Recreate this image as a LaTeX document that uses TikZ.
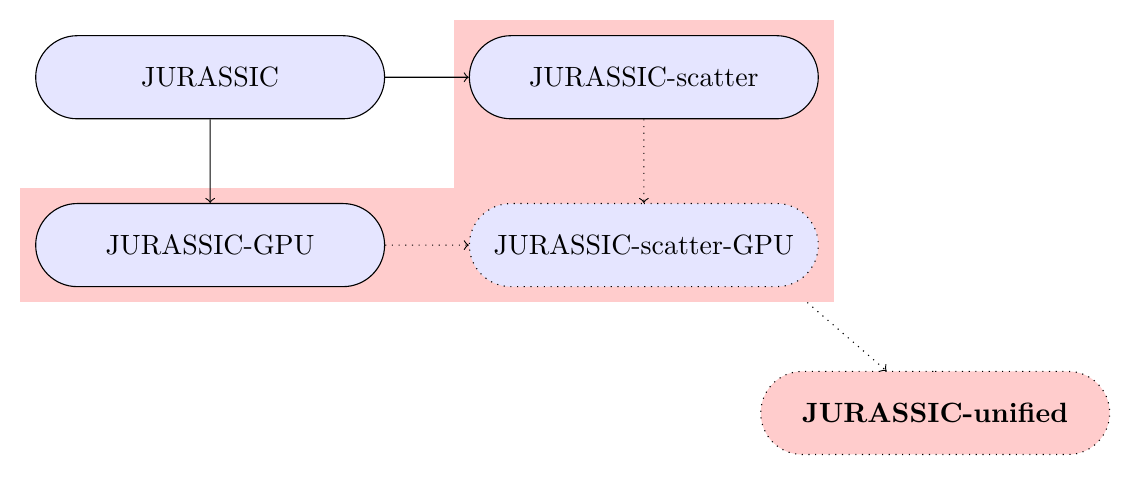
\documentclass[tikz,border=0pt]{standalone}
\usetikzlibrary{positioning,shapes.misc,fit,backgrounds}

\begin{document}
\begin{tikzpicture}
    \tikzset{codebox/.style={rounded rectangle, draw, fill=blue!10, minimum width=131.8pt, minimum height=29.8pt},
             myarrow/.style={->, thin},
             region/.style={fill=red!20, inner sep=5.3pt}}
    \tikzset{node distance=30pt}

    \draw node[codebox] (jurassic) {JURASSIC};
    \draw node[codebox, right=of jurassic] (scatter) {JURASSIC-scatter};
    \draw node[codebox, below=of jurassic] (gpu) {JURASSIC-GPU};
    \draw node[codebox, dotted, right=of gpu] (scattergpu) {JURASSIC-scatter-GPU};
    \draw node[codebox, dotted, fill=red!20, below=of scattergpu, xshift=104.5pt] (unified) {\textbf{JURASSIC-unified}};

    \begin{scope}[on background layer]
      \node[region, fit=(scatter) (scattergpu)] (scatterregion) {};
      \node[region, fit=(gpu) (scattergpu)] (gpuregion) {};
    \end{scope}

    \draw[myarrow] (jurassic) -- (scatter);
    \draw[myarrow] (jurassic) -- (gpu);
    \draw[myarrow, dotted] (scatter) -- (scattergpu);
    \draw[myarrow, dotted] (gpu) -- (scattergpu);
    \draw[myarrow, dotted] (scatterregion) -- (unified);

    \useasboundingbox ([shift={(-7.1pt,7.1pt)}]gpuregion.west |- scatterregion.north) rectangle ([shift={(7.1pt,-7.8pt)}]unified.east |- unified.south);
  \end{tikzpicture}
\end{document}
